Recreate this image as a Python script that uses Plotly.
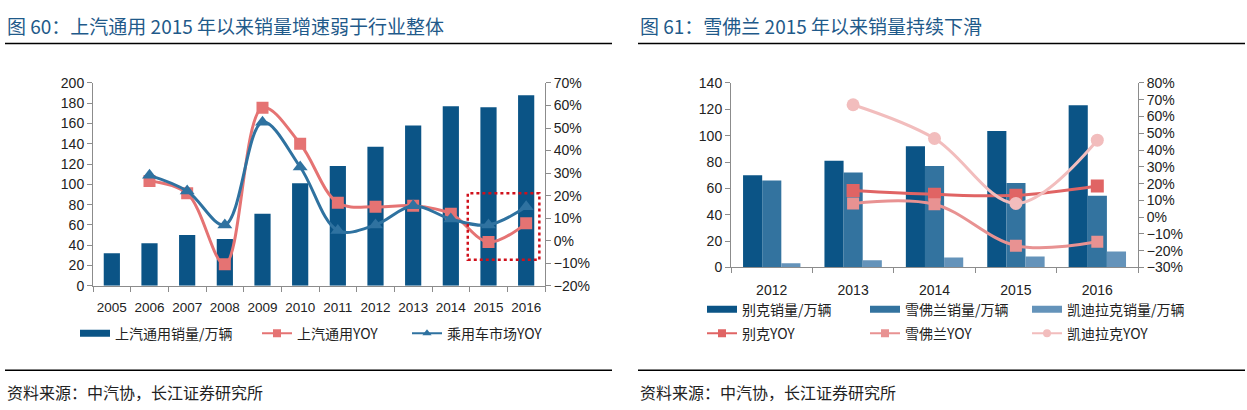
import plotly.graph_objects as go

# ---------------- data: left chart ----------------
years_a = ['2005', '2006', '2007', '2008', '2009', '2010', '2011', '2012', '2013', '2014', '2015', '2016']
sgm_sales = [32, 42, 50, 46, 71, 101, 118, 137, 158, 177, 176, 188]
sgm_yoy = [None, 0.265, 0.21, -0.105, 0.59, 0.43, 0.168, 0.15, 0.155, 0.12, -0.006, 0.077]
pv_yoy = [None, 0.29, 0.22, 0.07, 0.526, 0.327, 0.045, 0.07, 0.155, 0.096, 0.07, 0.15]

# ---------------- data: right chart ----------------
years_b = ['2012', '2013', '2014', '2015', '2016']
buick_sales = [70, 81, 92, 103.5, 123]
chevy_sales = [66, 72, 77, 64, 54.5]
cadillac_sales = [3.2, 5.4, 7.6, 8.3, 12.2]
buick_yoy = [None, 0.159, 0.136, 0.13, 0.186]
chevy_yoy = [None, 0.082, 0.077, -0.17, -0.147]
cadillac_yoy = [None, 0.67, 0.469, 0.082, 0.459]

title_a = '图 60：上汽通用 2015 年以来销量增速弱于行业整体'
title_b = '图 61：雪佛兰 2015 年以来销量持续下滑'
source_text = '资料来源：中汽协，长江证券研究所'

W, H = 1247, 410
FONT = 'Liberation Sans, Arial, Noto Sans CJK SC'
CJK = 'Noto Sans CJK SC, Liberation Sans'
AX = '#8c8c8c'

C_BAR = '#0b5486'
C_SGM = '#e57373'
C_PV = '#2f72a0'
C_CHEVY = '#33739f'
C_CAD = '#6493ba'
C_BUICK_L = '#e06464'
C_CHEVY_L = '#e89292'
C_CAD_L = '#f2bdbd'


def px(x):
    return x / W


def py(y):
    return (H - y) / H


fig = go.Figure()

# ---- left chart
fig.add_trace(go.Bar(x=years_a, y=sgm_sales, name='上汽通用销量/万辆', marker=dict(color=C_BAR, line=dict(width=0)),
                     width=0.43, xaxis='x', yaxis='y', showlegend=False))
fig.add_trace(go.Scatter(x=years_a, y=sgm_yoy, name='上汽通用YOY', mode='lines+markers',
                         line=dict(color=C_SGM, width=3, shape='spline'),
                         marker=dict(symbol='square', size=12, color=C_SGM),
                         xaxis='x', yaxis='y2', showlegend=False))
fig.add_trace(go.Scatter(x=years_a, y=pv_yoy, name='乘用车市场YOY', mode='lines+markers',
                         line=dict(color=C_PV, width=3, shape='spline'),
                         marker=dict(symbol='triangle-up', size=13, color=C_PV),
                         xaxis='x', yaxis='y2', showlegend=False))

# ---- right chart
bw = 0.235
fig.add_trace(go.Bar(x=years_b, y=buick_sales, name='别克销量/万辆', marker=dict(color=C_BAR, line=dict(width=0)),
                     width=bw, offset=-0.352, xaxis='x2', yaxis='y3', showlegend=False))
fig.add_trace(go.Bar(x=years_b, y=chevy_sales, name='雪佛兰销量/万辆', marker=dict(color=C_CHEVY, line=dict(width=0)),
                     width=bw, offset=-0.117, xaxis='x2', yaxis='y3', showlegend=False))
fig.add_trace(go.Bar(x=years_b, y=cadillac_sales, name='凯迪拉克销量/万辆', marker=dict(color=C_CAD, line=dict(width=0)),
                     width=bw, offset=0.118, xaxis='x2', yaxis='y3', showlegend=False))
fig.add_trace(go.Scatter(x=years_b, y=buick_yoy, name='别克YOY', mode='lines+markers',
                         line=dict(color=C_BUICK_L, width=3, shape='spline'),
                         marker=dict(symbol='square', size=13, color=C_BUICK_L),
                         xaxis='x2', yaxis='y4', showlegend=False))
fig.add_trace(go.Scatter(x=years_b, y=chevy_yoy, name='雪佛兰YOY', mode='lines+markers',
                         line=dict(color=C_CHEVY_L, width=3, shape='spline'),
                         marker=dict(symbol='square', size=12, color=C_CHEVY_L),
                         xaxis='x2', yaxis='y4', showlegend=False))
fig.add_trace(go.Scatter(x=years_b, y=cadillac_yoy, name='凯迪拉克YOY', mode='lines+markers',
                         line=dict(color=C_CAD_L, width=3, shape='spline'),
                         marker=dict(symbol='circle', size=13, color=C_CAD_L),
                         xaxis='x2', yaxis='y4', showlegend=False))

# ---- legend entries (empty traces, styled like the reference's legend keys)
legend_keys = [
    ('上汽通用销量/万辆', 'bar', C_BAR, None, 'x', 'y', 'legend'),
    ('上汽通用YOY', 'line', C_SGM, 'square', 'x', 'y2', 'legend2'),
    ('乘用车市场YOY', 'line', C_PV, 'triangle-up', 'x', 'y2', 'legend3'),
    ('别克销量/万辆', 'bar', C_BAR, None, 'x2', 'y3', 'legend4'),
    ('雪佛兰销量/万辆', 'bar', C_CHEVY, None, 'x2', 'y3', 'legend5'),
    ('凯迪拉克销量/万辆', 'bar', C_CAD, None, 'x2', 'y3', 'legend6'),
    ('别克YOY', 'line', C_BUICK_L, 'square', 'x2', 'y4', 'legend7'),
    ('雪佛兰YOY', 'line', C_CHEVY_L, 'square', 'x2', 'y4', 'legend8'),
    ('凯迪拉克YOY', 'line', C_CAD_L, 'circle', 'x2', 'y4', 'legend9'),
]
for name, kind, color, sym, xa, ya, leg in legend_keys:
    if kind == 'bar':
        fig.add_trace(go.Scatter(x=[None], y=[None], name=name, mode='lines', line=dict(color=color, width=7),
                                 xaxis=xa, yaxis=ya, legend=leg, hoverinfo='skip'))
    else:
        fig.add_trace(go.Scatter(x=[None], y=[None], name=name, mode='lines+markers',
                                 line=dict(color=color, width=2),
                                 marker=dict(symbol=sym, size=8, color=color),
                                 xaxis=xa, yaxis=ya, legend=leg, hoverinfo='skip'))

axis_base = dict(showline=True, linecolor=AX, linewidth=1, ticks='outside', ticklen=5, tickcolor=AX,
                 showgrid=False, zeroline=False)
tick14 = dict(family=FONT, size=14, color='#222')

layout = dict(
    width=W, height=H, autosize=False, margin=dict(l=0, r=0, t=0, b=0),
    paper_bgcolor='white', plot_bgcolor='white', barmode='overlay', showlegend=True,
    font=dict(family=FONT, size=14, color='#222'),
    xaxis=dict(domain=[px(93), px(545)], anchor='y', type='category', tickson='boundaries',
               range=[-0.5, 11.5], tickangle=0, tickfont=dict(family=FONT, size=13.5, color='#222'),
               ticklabelstandoff=9, **axis_base),
    yaxis=dict(domain=[py(289), py(78)], anchor='x', range=[0, 200], dtick=20, tickfont=tick14, **axis_base),
    yaxis2=dict(overlaying='y', anchor='x', side='right', range=[-0.2, 0.7], dtick=0.1, tickformat='.0%',
                tickfont=tick14, **axis_base),
    xaxis2=dict(domain=[px(731), px(1138)], anchor='y3', type='category', tickson='boundaries',
                range=[-0.5, 4.5], tickangle=0, ticklabelstandoff=10, tickfont=tick14, **axis_base),
    yaxis3=dict(domain=[py(270), py(78)], anchor='x2', range=[0, 140], dtick=20, tickfont=tick14, **axis_base),
    yaxis4=dict(overlaying='y3', anchor='x2', side='right', range=[-0.3, 0.8], dtick=0.1, tickformat='.0%',
                tickfont=tick14, **axis_base),
)

leg_pos = {
    'legend': (75, 339), 'legend2': (257, 339), 'legend3': (407, 339),
    'legend4': (702, 314), 'legend5': (865, 314), 'legend6': (1027, 314),
    'legend7': (702, 339), 'legend8': (865, 339), 'legend9': (1027, 339),
}
for k, (lx, ly) in leg_pos.items():
    layout[k] = dict(x=px(lx), y=py(ly), xanchor='left', yanchor='middle', orientation='h',
                     bgcolor='rgba(0,0,0,0)', borderwidth=0, visible=True,
                     font=dict(family=CJK, size=14, color='#222'))

fig.update_layout(**layout)

# decorations: title rules, bottom rules, highlight box
shapes = [
    dict(type='line', xref='paper', yref='paper', x0=px(5), x1=px(612), y0=py(37), y1=py(37),
         line=dict(color='black', width=1.5)),
    dict(type='line', xref='paper', yref='paper', x0=px(638), x1=px(1245), y0=py(37), y1=py(37),
         line=dict(color='black', width=1.5)),
    dict(type='line', xref='paper', yref='paper', x0=px(5), x1=px(612), y0=py(377), y1=py(377),
         line=dict(color='black', width=1.5)),
    dict(type='line', xref='paper', yref='paper', x0=px(638), x1=px(1245), y0=py(377), y1=py(377),
         line=dict(color='black', width=1.5)),
    dict(type='rect', xref='x', yref='y2', x0=9.45, x1=11.35, y0=-0.085, y1=0.21,
         line=dict(color='#d0101b', width=2.5, dash='dot'), fillcolor='rgba(0,0,0,0)', layer='above'),
]
fig.update_layout(shapes=shapes)

annotations = [
    dict(text=title_a, x=px(5), y=py(18), xref='paper', yref='paper', xanchor='left', yanchor='middle',
         showarrow=False, font=dict(family=CJK, size=19, color='#1f5a8a')),
    dict(text=title_b, x=px(638), y=py(18), xref='paper', yref='paper', xanchor='left', yanchor='middle',
         showarrow=False, font=dict(family=CJK, size=19, color='#1f5a8a')),
    dict(text=source_text, x=px(5), y=py(400), xref='paper', yref='paper', xanchor='left', yanchor='middle',
         showarrow=False, font=dict(family=CJK, size=16, color='#222')),
    dict(text=source_text, x=px(638), y=py(400), xref='paper', yref='paper', xanchor='left', yanchor='middle',
         showarrow=False, font=dict(family=CJK, size=16, color='#222')),
]
fig.update_layout(annotations=annotations)

post = ("document.documentElement.style.margin='0';document.body.style.margin='0';"
        "document.body.style.overflow='hidden';"
        "var d=document.getElementById('{plot_id}');d.style.position='fixed';d.style.top='0';d.style.left='0';")
fig.write_html('out.html', config={'displayModeBar': False}, post_script=post)
